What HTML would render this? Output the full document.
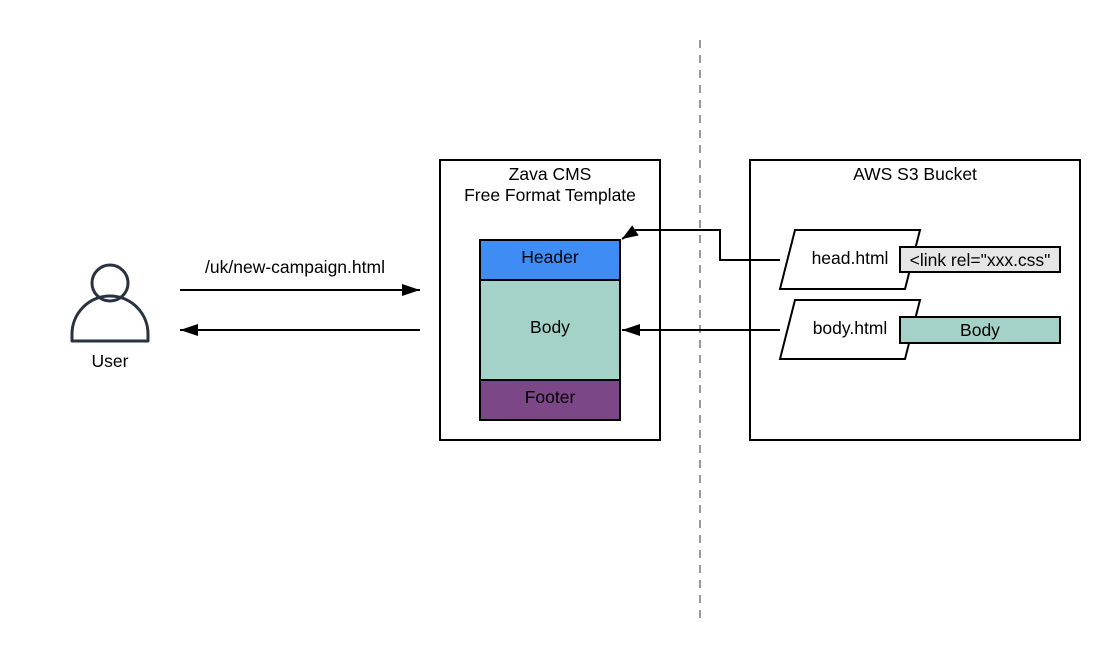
<!DOCTYPE html>
<html><head><style>
body{margin:0;background:#fff}
svg{display:block}
text{font-family:"Liberation Sans",sans-serif;font-size:17.5px;fill:#000}
</style></head><body>
<svg width="1120" height="660" viewBox="0 0 1120 660">
<defs>
<marker id="a" markerWidth="18" markerHeight="12" refX="16" refY="6" orient="auto" markerUnits="userSpaceOnUse"><path d="M0,0L16,6L0,12z" fill="#000"/></marker>
<marker id="b" markerWidth="20" markerHeight="12" refX="18" refY="6" orient="auto" markerUnits="userSpaceOnUse"><path d="M0,0L18,6L0,12z" fill="#000"/></marker>
</defs>
<line x1="700" y1="40" x2="700" y2="620" stroke="#999" stroke-width="2" stroke-dasharray="8,7"/>
<circle cx="110" cy="283" r="18" fill="none" stroke="#2a3140" stroke-width="3"/>
<path d="M72,341 L72,334 A38,38 0 0 1 148,334 L148,341 Z" fill="none" stroke="#2a3140" stroke-width="3" stroke-linejoin="round"/>
<text x="110" y="367" text-anchor="middle">User</text>
<text x="295" y="273" text-anchor="middle">/uk/new-campaign.html</text>
<line x1="180" y1="290" x2="420" y2="290" stroke="#000" stroke-width="2" marker-end="url(#b)"/>
<line x1="420" y1="330" x2="180" y2="330" stroke="#000" stroke-width="2" marker-end="url(#b)"/>
<rect x="440" y="160" width="220" height="280" fill="#fff" stroke="#000" stroke-width="2"/>
<text x="550" y="180" text-anchor="middle">Zava CMS</text>
<text x="550" y="201" text-anchor="middle">Free Format Template</text>
<rect x="480" y="240" width="140" height="40" fill="#3f8cf5" stroke="#000" stroke-width="2"/>
<rect x="480" y="280" width="140" height="100" fill="#a5d2c8" stroke="#000" stroke-width="2"/>
<rect x="480" y="380" width="140" height="40" fill="#7b4786" stroke="#000" stroke-width="2"/>
<text x="550" y="263" text-anchor="middle">Header</text>
<text x="550" y="333" text-anchor="middle">Body</text>
<text x="550" y="403" text-anchor="middle">Footer</text>
<rect x="750" y="160" width="330" height="280" fill="#fff" stroke="#000" stroke-width="2"/>
<text x="915" y="180" text-anchor="middle">AWS S3 Bucket</text>
<path d="M795,230L920,230L905,289L780,289Z" fill="#fff" stroke="#000" stroke-width="2"/>
<path d="M795,300L920,300L905,359L780,359Z" fill="#fff" stroke="#000" stroke-width="2"/>
<text x="850" y="264" text-anchor="middle">head.html</text>
<text x="850" y="334" text-anchor="middle">body.html</text>
<rect x="900" y="247" width="160" height="25" fill="#e6e6e6" stroke="#000" stroke-width="2"/>
<text x="980" y="266" text-anchor="middle">&lt;link rel="xxx.css"</text>
<rect x="900" y="317" width="160" height="26" fill="#a5d2c8" stroke="#000" stroke-width="2"/>
<text x="980" y="336" text-anchor="middle">Body</text>
<polyline points="780,260 720,260 720,230 636,230 622,239" fill="none" stroke="#000" stroke-width="2" marker-end="url(#a)"/>
<line x1="780" y1="330" x2="622" y2="330" stroke="#000" stroke-width="2" marker-end="url(#b)"/>
</svg>
</body></html>
